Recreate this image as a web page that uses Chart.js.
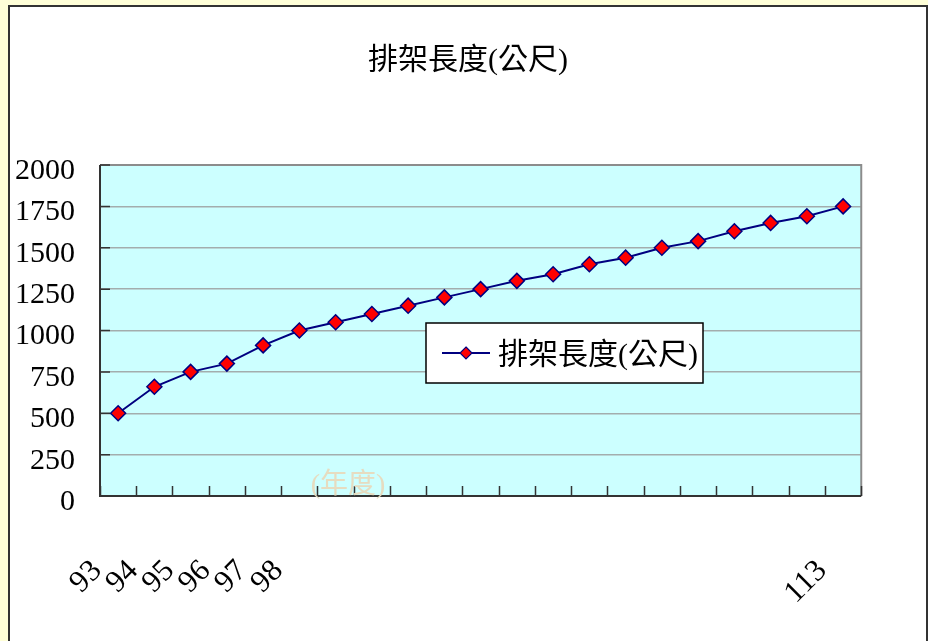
<!DOCTYPE html>
<html>
<head>
<meta charset="utf-8">
<script src="https://cdn.jsdelivr.net/npm/chart.js@4/dist/chart.umd.min.js"></script>
<style>
  html, body { margin: 0; padding: 0; background: #FFFFD8; width: 928px; height: 641px; overflow: hidden; }
  #frame { position: absolute; left: 8px; top: 5px; width: 916px; height: 700px; background: #FFFFFF;
           border: 2px solid #333333; }
  #c { position: absolute; left: 0; top: 0; }
</style>
</head>
<body>
<div id="frame"></div>
<canvas id="c" width="928" height="641"></canvas>
<script>
// ---- data ----
const chartTitle = '排架長度(公尺)';
const seriesName = '排架長度(公尺)';
const xAxisTitle = '(年度)';
const years = ['93','94','95','96','97','98','99','100','101','102','103','104','105','106','107','108','109','110','111','112','113'];
const shelfLength = [500, 660, 750, 800, 910, 1000, 1050, 1100, 1150, 1200, 1250, 1300, 1340, 1400, 1440, 1500, 1540, 1600, 1650, 1690, 1750];
const shownTickLabels = ['93','94','95','96','97','98','','','','','','','','','','','','','','','113'];
const yTicks = [0, 250, 500, 750, 1000, 1250, 1500, 1750, 2000];
const yTickLabels = ['0','250','500','750','1000','1250','1500','1750','2000'];

const FONT_FAMILY = '"Liberation Serif", "Noto Sans CJK TC", serif';

const decor = {
  id: 'decor',
  beforeDraw(chart) {
    const { ctx, chartArea: a } = chart;
    ctx.save();
    ctx.fillStyle = '#CCFFFF';
    ctx.fillRect(a.left, a.top, a.right - a.left, a.bottom - a.top);
    ctx.restore();
  },
  beforeDatasetsDraw(chart) {
    const { ctx, chartArea: a } = chart;
    const xs = chart.scales.x, ys = chart.scales.y;
    ctx.save();
    // plot border top/right
    ctx.strokeStyle = '#8C8C8C';
    ctx.lineWidth = 2;
    ctx.beginPath();
    ctx.moveTo(a.left, a.top); ctx.lineTo(a.right, a.top); ctx.lineTo(a.right, a.bottom);
    ctx.stroke();
    // inside tick marks
    ctx.strokeStyle = '#333333';
    ctx.lineWidth = 1.5;
    const half = (xs.getPixelForValue(1) - xs.getPixelForValue(0)) / 2;
    ctx.beginPath();
    for (let i = 0; i <= years.length; i++) {
      const x = Math.round(xs.getPixelForValue(i) - half) + 0.5;
      ctx.moveTo(x, a.bottom); ctx.lineTo(x, a.bottom - 10);
    }
    yTicks.forEach(v => {
      const y = ys.getPixelForValue(v);
      ctx.moveTo(a.left, y); ctx.lineTo(a.left + 10, y);
    });
    ctx.stroke();
    // axis lines
    ctx.lineWidth = 2;
    ctx.beginPath();
    ctx.moveTo(a.left, a.top); ctx.lineTo(a.left, a.bottom); ctx.lineTo(a.right, a.bottom);
    ctx.stroke();
    ctx.restore();
  },
  afterDraw(chart) {
    const { ctx, chartArea: a } = chart;
    ctx.save();
    // x axis title (faint)
    ctx.font = '28px ' + FONT_FAMILY;
    ctx.fillStyle = '#E6DCC0';
    ctx.textAlign = 'center';
    ctx.textBaseline = 'middle';
    ctx.fillText(xAxisTitle, a.left + 248, a.bottom - 10);
    // legend box
    const lx = a.left + 326, ly = a.top + 158, lw = 277, lh = 60;
    ctx.fillStyle = '#FFFFFF';
    ctx.fillRect(lx, ly, lw, lh);
    ctx.strokeStyle = '#000000';
    ctx.lineWidth = 1.5;
    ctx.strokeRect(lx, ly, lw, lh);
    const my = ly + 30;
    ctx.strokeStyle = '#000080';
    ctx.lineWidth = 2;
    ctx.beginPath();
    ctx.moveTo(lx + 16, my); ctx.lineTo(lx + 64, my);
    ctx.stroke();
    ctx.beginPath();
    ctx.moveTo(lx + 40, my - 6); ctx.lineTo(lx + 46, my); ctx.lineTo(lx + 40, my + 6); ctx.lineTo(lx + 34, my);
    ctx.closePath();
    ctx.fillStyle = '#FF0000';
    ctx.fill();
    ctx.lineWidth = 1.2;
    ctx.stroke();
    ctx.font = '30px ' + FONT_FAMILY;
    ctx.fillStyle = '#000000';
    ctx.textAlign = 'left';
    ctx.textBaseline = 'middle';
    ctx.fillText(chart.data.datasets[0].label, lx + 72, my + 3);
    ctx.restore();
  }
};

new Chart(document.getElementById('c'), {
  type: 'line',
  data: {
    labels: years,
    datasets: [{
      label: seriesName,
      data: shelfLength,
      borderColor: '#000080',
      borderWidth: 2,
      backgroundColor: '#FF0000',
      pointStyle: 'rectRot',
      pointRadius: 7.5,
      pointHoverRadius: 7.5,
      pointBackgroundColor: '#FF0000',
      pointBorderColor: '#000080',
      pointBorderWidth: 1.5,
      tension: 0,
      fill: false
    }]
  },
  options: {
    responsive: false,
    animation: false,
    devicePixelRatio: 1,
    layout: { padding: { left: 8, right: 0, top: 0, bottom: 0 } },
    plugins: {
      legend: { display: false },
      tooltip: { enabled: false },
      title: {
        display: true,
        text: chartTitle,
        color: '#000000',
        font: { family: FONT_FAMILY, size: 30, weight: 'normal' },
        padding: { top: 43, bottom: 86 }
      }
    },
    scales: {
      x: {
        offset: true,
        grid: { display: false, drawTicks: false },
        border: { display: false },
        ticks: {
          autoSkip: false,
          maxRotation: 45,
          minRotation: 45,
          labelOffset: -21,
          padding: 57,
          color: '#000000',
          font: { family: FONT_FAMILY, size: 31 },
          callback: (v, i) => shownTickLabels[i]
        },
        afterFit: s => { s.height = 145; }
      },
      y: {
        min: 0,
        max: 2000,
        afterBuildTicks: s => { s.ticks = yTicks.map(v => ({ value: v })); },
        grid: { color: '#A3ADAD', lineWidth: 1.5, drawTicks: false },
        border: { display: false },
        ticks: {
          padding: 25,
          labelOffset: 6,
          color: '#000000',
          font: { family: FONT_FAMILY, size: 30 },
          callback: (v, i) => yTickLabels[i]
        },
        afterFit: s => { s.width = 92; }
      },
      yPad: {
        position: 'right',
        display: true,
        grid: { display: false, drawTicks: false },
        border: { display: false },
        ticks: { display: false },
        afterFit: s => { s.width = 66; }
      }
    }
  },
  plugins: [decor]
});
</script>
</body>
</html>
